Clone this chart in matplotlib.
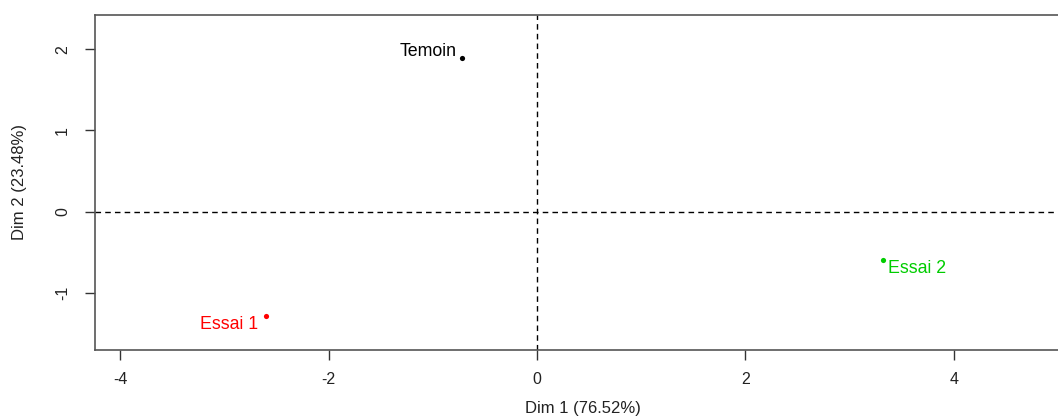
import matplotlib
matplotlib.use("Agg")
import matplotlib.pyplot as plt

# Individuals on the first factorial plane
labels = ["Temoin", "Essai 1", "Essai 2"]
dim1 = [-0.723, -2.602, 3.319]
dim2 = [1.887, -1.279, -0.598]
colors = ["#000000", "#FF0000", "#00CD00"]
xticks = [-4, -2, 0, 2, 4]
yticks = [-1, 0, 1, 2]
xlabel = "Dim 1 (76.52%)"
ylabel = "Dim 2 (23.48%)"

plt.rcParams["font.family"] = ["Liberation Sans", "DejaVu Sans"]

W, H = 1058, 418
fig = plt.figure(figsize=(W / 100, H / 100), dpi=100)
left_px, right_px, top_px, bottom_px = 95, 1070, 15, 350
ax = fig.add_axes([left_px / W, 1 - bottom_px / H,
                   (right_px - left_px) / W, (bottom_px - top_px) / H])

ax.set_xlim(-4.244, 5.117)
ax.set_ylim(-1.70, 2.42)

ax.axhline(0, color="black", lw=1, ls=(0, (4, 3)), zorder=1)
ax.axvline(0, color="black", lw=1, ls=(0, (4, 3)), zorder=1)

offsets = [(-4, 5, "right"), (-6, -6, "right"), (4, -6, "left")]
for lab, x, y, c, (dx, dy, ha) in zip(labels, dim1, dim2, colors, offsets):
    ax.scatter([x], [y], s=14, color=c, zorder=3, linewidths=0)
    ax.annotate(lab, (x, y), xytext=(dx, dy), textcoords="offset points",
                ha=ha, va="center", color=c, fontsize=12.8)

for s in ax.spines.values():
    s.set_color("#555555")
    s.set_linewidth(1.2)

ax.set_xticks(xticks)
ax.set_xticklabels([str(v) for v in xticks])
ax.set_yticks(yticks)
ax.set_yticklabels([str(v) for v in yticks], rotation=90, va="center")
ax.tick_params(axis="x", length=7, width=1, color="#333333", pad=9,
               labelsize=11.5, labelcolor="#222222")
ax.tick_params(axis="y", length=7, width=1, color="#333333", pad=11,
               labelsize=11.5, labelcolor="#222222")

ax.set_xlabel(xlabel, fontsize=12, color="#222222", va="center")
ax.set_ylabel(ylabel, fontsize=12, color="#222222", va="center")
ax.xaxis.set_label_coords(0.5, (bottom_px - 409) / (bottom_px - top_px))
ax.yaxis.set_label_coords((20 - left_px) / (right_px - left_px), 0.5)

fig.savefig("out.png", dpi=100, facecolor="white")
